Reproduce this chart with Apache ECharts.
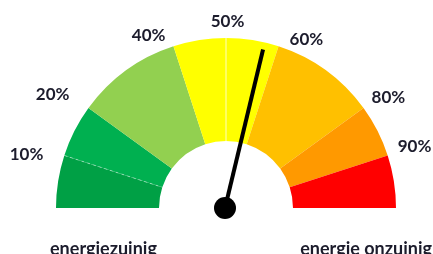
<!DOCTYPE html>
<html lang="nl">
<head>
    <meta charset="UTF-8">
    <title>Energiemeter</title>
    <script src="https://cdn.jsdelivr.net/npm/echarts@6/dist/echarts.min.js"></script>
    <style>
        html, body { margin: 0; padding: 0; background: #fff; }
    </style>
</head>
<body>
<div id="main" style="width: 433px;height:254px;"></div>

<script type="text/javascript">
    // band widths in % (0-100 over the half circle)
    var bands = [10, 10, 20, 10, 10, 20, 10, 10];
    var bandColors = ['#00A045', '#00B050', '#92D050', '#FFFF00', '#FFFF00', '#FFC000', '#FF9900', '#FF0000'];
    // percentages shown round the arc
    var tickLabels = [10, 20, 40, 50, 60, 80, 90];
    // needle position
    var needleValue = 57.5;
    var footLabels = ['energiezuinig', 'energie onzuinig'];

    var cx = 226, cy = 208;
    var textColor = '#1c1c2c';
    var font = 'Lato';

    // small per-label nudges (line height, left pad, right pad) so the labels sit like the original
    var labelNudge = {
        10: [1, 0, 21],
        20: [28, 0, 19],
        40: [22, 0, 8],
        50: [32, 3, 0],
        60: [13, 11, 0],
        80: [21, 8, 0],
        90: [17, 10, 0]
    };

    var myChart = echarts.init(document.getElementById('main'));

    // pie slices, plus an invisible half for the bottom
    var pieData = bands.map(function (v, i) {
        return { value: v, itemStyle: { color: bandColors[i] } };
    });
    pieData.push({ value: 100, itemStyle: { color: 'rgba(0,0,0,0)' } });

    // only the 10% boundary gets the dashed line
    var dashColors = [];
    for (var i = 0; i < 20; i++) {
        dashColors.push(i === 1 ? 'rgba(255,255,255,0.45)' : 'rgba(0,0,0,0)');
    }

    var rich = {};
    tickLabels.forEach(function (t) {
        var n = labelNudge[t];
        rich['p' + t] = {
            fontFamily: font,
            fontSize: 17,
            fontWeight: 'bold',
            color: textColor,
            lineHeight: n[0],
            padding: [0, n[2], 0, n[1]]
        };
    });

    var option = {
        animation: false,
        title: [{
            text: footLabels[0],
            left: 50,
            top: 240,
            padding: 0,
            textStyle: { fontFamily: font, fontSize: 18, fontWeight: 'bold', color: textColor }
        }, {
            text: footLabels[1],
            right: 1,
            top: 240,
            padding: 0,
            textStyle: { fontFamily: font, fontSize: 18, fontWeight: 'bold', color: textColor }
        }],
        polar: [
            { center: [cx, cy], radius: [67, 170] },
            { center: [cx, cy], radius: [67, 170] }
        ],
        angleAxis: [{
            polarIndex: 0,
            type: 'value',
            min: 0,
            max: 200,
            interval: 10,
            startAngle: 180,
            clockwise: true,
            z: 10,
            axisLine: { show: false },
            axisTick: { show: false },
            splitLine: { show: true, lineStyle: { color: dashColors, width: 1, type: [3, 3] } },
            axisLabel: {
                margin: 0,
                rich: rich,
                formatter: function (v) {
                    return tickLabels.indexOf(v) >= 0 ? '{p' + v + '|' + v + '%}' : '';
                }
            }
        }, {
            polarIndex: 1,
            type: 'value',
            min: 0,
            max: 200,
            interval: 50,
            startAngle: 180,
            clockwise: true,
            z: 10,
            axisLine: { show: false },
            axisTick: { show: false },
            axisLabel: { show: false },
            splitLine: { show: true, lineStyle: { color: ['rgba(0,0,0,0)', 'rgba(255,255,255,0.75)'], width: 1 } }
        }],
        radiusAxis: [
            { polarIndex: 0, show: false },
            { polarIndex: 1, show: false }
        ],
        series: [{
            type: 'pie',
            silent: true,
            center: [cx, cy],
            radius: [67, 170],
            startAngle: 180,
            clockwise: true,
            label: { show: false },
            labelLine: { show: false },
            itemStyle: { borderWidth: 0 },
            data: pieData
        }, {
            type: 'gauge',
            silent: true,
            center: [cx - 1, cy],
            radius: 163,
            startAngle: 180,
            endAngle: 0,
            min: 0,
            max: 100,
            z: 20,
            axisLine: { show: false },
            axisTick: { show: false },
            splitLine: { show: false },
            axisLabel: { show: false },
            title: { show: false },
            detail: { show: false },
            pointer: {
                icon: 'rect',
                length: '100%',
                width: 4,
                itemStyle: { color: '#000' }
            },
            anchor: {
                show: true,
                showAbove: true,
                size: 22,
                itemStyle: { color: '#000' }
            },
            data: [{ value: needleValue }]
        }]
    };

    myChart.setOption(option);
</script>
</body>
</html>
